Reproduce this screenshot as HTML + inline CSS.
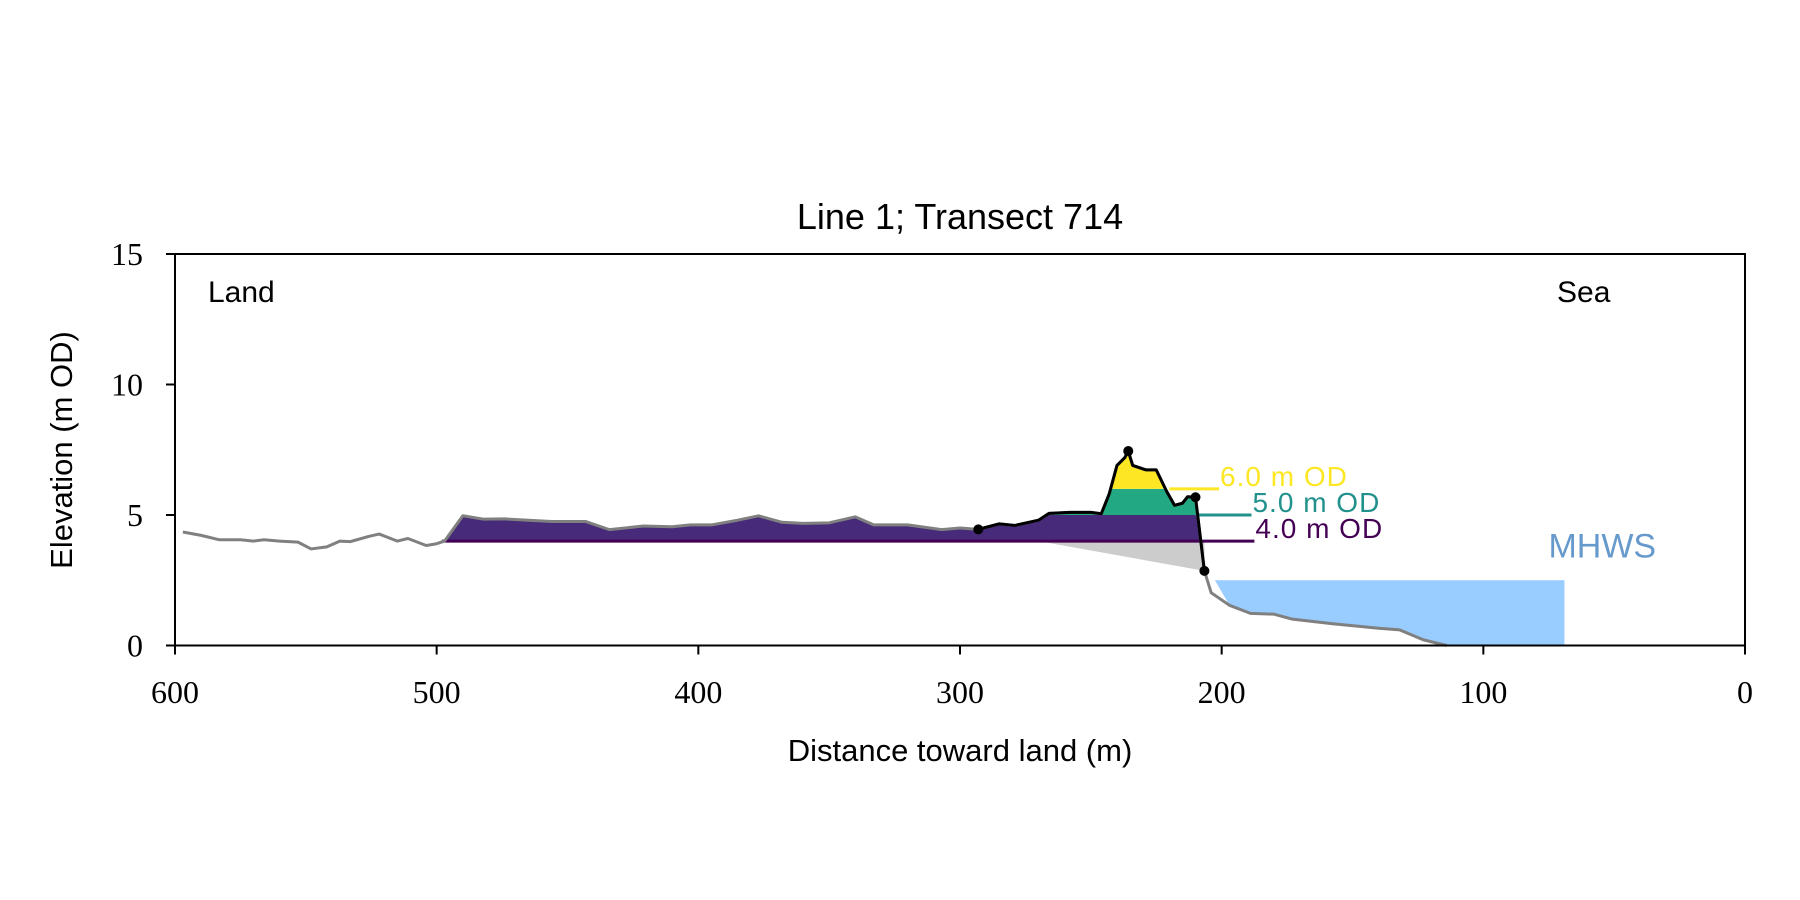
<!DOCTYPE html>
<html><head><meta charset="utf-8"><style>
html,body{margin:0;padding:0;background:#fff;}
svg{display:block;}
.serif{font-family:"Liberation Serif",serif;}
.sans{font-family:"Liberation Sans",sans-serif;}
</style></head><body>
<svg id="chart" width="1800" height="900" viewBox="0 0 1800 900">
<rect width="1800" height="900" fill="#fff"/>
<g id="plot"></g>
<text class="sans" x="960" y="229" font-size="36" text-anchor="middle">Line 1; Transect 714</text>
<text class="sans" x="208" y="302" font-size="30">Land</text>
<text class="sans" x="1557" y="302" font-size="30">Sea</text>
<text class="sans" x="960" y="761" font-size="31" text-anchor="middle">Distance toward land (m)</text>
<text class="sans" x="0" y="0" font-size="31" text-anchor="middle" transform="translate(72,450) rotate(-90)">Elevation (m OD)</text>
</svg>
<script>
const profileDist=[597,590,583,575,570,566,560,553,548,542,537,533,526,522,515,511,504,500,497,490,482,474,465,456,443,434,428,421,410,403,395,385,377,368,360,350,340,333,320,307,300,293,285,279,270,266,258,250,246,243,240,237,235.7,234,229,225,221,218,215,213,210,206.6,204,197,189,180,173,158,140,132,123,114];
const profileElev=[4.35,4.22,4.05,4.05,4.0,4.05,4.0,3.96,3.7,3.78,4.0,3.98,4.18,4.27,4.0,4.1,3.83,3.9,4.0,4.97,4.84,4.85,4.8,4.75,4.75,4.44,4.5,4.58,4.55,4.62,4.62,4.8,4.97,4.72,4.68,4.7,4.93,4.62,4.62,4.44,4.5,4.45,4.66,4.6,4.8,5.06,5.1,5.1,5.05,5.8,6.9,7.2,7.45,6.9,6.73,6.73,5.9,5.37,5.45,5.7,5.68,2.86,2.02,1.54,1.23,1.2,1.01,0.84,0.66,0.6,0.22,0.0];
const levels=[4.0,5.0,6.0];
const levelLabels=["4.0 m OD","5.0 m OD","6.0 m OD"];
const levelLineStart=[498,210,220];
const levelLineEnd=[187.5,188.6,201];
const fillStart=497, fillEnd=206.6, crestStart=293;
const dots=[293,235.7,210,206.6];
const dotElev=[4.45,7.45,5.68,2.86];
const mhws=2.5, mhwsStart=202.6, mhwsEnd=69;
const xTicks=[600,500,400,300,200,100,0];
const yTicks=[0,5,10,15];

const X0=175,X1=1745,Y0=645.5,Y1=254;
const xs=d=>X0+(600-d)/600*(X1-X0);
const ys=v=>Y0-(v/15)*(Y0-Y1);
const NS="http://www.w3.org/2000/svg";
const plot=document.getElementById('plot');
function mk(tag,attrs,parent){const e=document.createElementNS(NS,tag);for(const k in attrs)e.setAttribute(k,attrs[k]);(parent||plot).appendChild(e);return e;}
const viridisFill=["#472a7a","#23a884","#fde725"];
const viridisLine=["#440154","#21918c","#fde725"];
const labelColor=["#440154","#21918c","#fde725"];

// defs / clips
const defs=mk('defs',{});
for(let i=0;i<levels.length;i++){
  const cp=mk('clipPath',{id:'clip'+i},defs);
  const top=i<levels.length-1?ys(levels[i+1]):0;
  mk('rect',{x:xs(fillStart),y:top,width:xs(fillEnd)-xs(fillStart),height:ys(levels[i])-top},cp);
}
// MHWS fill between profile and mhws
let mpts=[[xs(mhwsStart),ys(mhws)],[xs(mhwsEnd),ys(mhws)],[xs(mhwsEnd),ys(0)]];
for(let i=profileDist.length-1;i>=0;i--){const d=profileDist[i];if(d<=mhwsStart&&d>=mhwsEnd)mpts.push([xs(d),ys(Math.min(profileElev[i],mhws))]);}
const mh=mk('polygon',{points:mpts.map(p=>p.join(',')).join(' '),fill:'#99ccff'});


const mt=mk('text',{x:xs(mhwsEnd)-16,y:ys(mhws)-23,'font-size':34,fill:'#6699cc',class:'sans'});
mt.textContent='MHWS';



// profile polygon pts within fill range
let ppts=[];
for(let i=0;i<profileDist.length;i++){const d=profileDist[i];if(d<=fillStart&&d>=fillEnd)ppts.push([xs(d),ys(profileElev[i])]);}
ppts.unshift([xs(fillStart),ys(levels[0])]);
ppts.push([xs(fillEnd),ys(0)]);
const ppStr=ppts.map(p=>p.join(',')).join(' ');
// gray erosion triangle
const gt=mk('polygon',{points:[[xs(270),ys(levels[0])],[xs(fillEnd),ys(levels[0])],[xs(dots[3]),ys(dotElev[3])]].map(p=>p.join(',')).join(' '),fill:'#cccccc'});


for(let i=0;i<levels.length;i++){
  const f=mk('polygon',{points:ppStr,fill:viridisFill[i],'clip-path':'url(#clip'+i+')'});
  
  
}
// level lines & labels
for(let i=0;i<levels.length;i++){
  const l=mk('line',{x1:xs(levelLineStart[i]),x2:xs(levelLineEnd[i]),y1:ys(levels[i]),y2:ys(levels[i]),stroke:viridisLine[i],'stroke-width':3});
  
  
  const t=mk('text',{x:xs(levelLineEnd[i])+1,y:ys(levels[i])-3,'font-size':28,fill:labelColor[i],class:'sans','letter-spacing':'1'});
  t.textContent=levelLabels[i];
  
  
}
// profile lines
const gp=profileDist.map((d,i)=>xs(d)+','+ys(profileElev[i])).join(' ');
const g=mk('polyline',{points:gp,fill:'none',stroke:'#808080','stroke-width':3,'stroke-linejoin':'round'});


const bp=profileDist.map((d,i)=>[d,profileElev[i]]).filter(p=>p[0]<=crestStart&&p[0]>=dots[3]).map(p=>xs(p[0])+','+ys(p[1])).join(' ');
const b=mk('polyline',{points:bp,fill:'none',stroke:'#000','stroke-width':3,'stroke-linejoin':'round'});


for(let i=0;i<dots.length;i++){
  const c=mk('circle',{cx:xs(dots[i]),cy:ys(dotElev[i]),r:5,fill:'#000'});
  
  
}
// axes
const ax=mk('rect',{x:X0,y:Y1,width:X1-X0,height:Y0-Y1,fill:'none',stroke:'#000','stroke-width':2});


xTicks.forEach(v=>{
  const t=mk('line',{x1:xs(v),x2:xs(v),y1:Y0,y2:Y0+9,stroke:'#000','stroke-width':2});
  
  
  const l=mk('text',{x:xs(v),y:703,'font-size':32,'text-anchor':'middle',class:'serif'});
  l.textContent=v;
  
  
});
yTicks.forEach(v=>{
  const t=mk('line',{x1:X0-9,x2:X0,y1:ys(v),y2:ys(v),stroke:'#000','stroke-width':2});
  
  
  const l=mk('text',{x:143,y:ys(v)+11,'font-size':32,'text-anchor':'end',class:'serif'});
  l.textContent=v;
  
  
});
</script>
</body></html>
